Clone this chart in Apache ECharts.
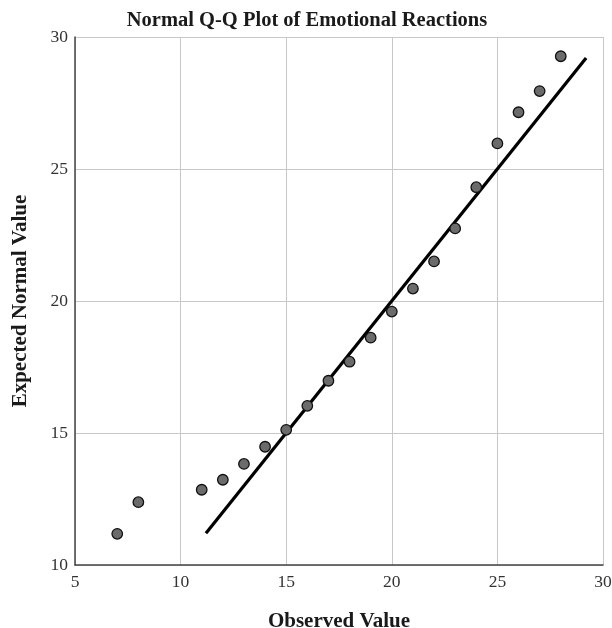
<!DOCTYPE html>
<html>
<head>
<meta charset="utf-8">
<script src="https://cdn.jsdelivr.net/npm/echarts@6/dist/echarts.min.js"></script>
<style>html,body{margin:0;padding:0;background:#fff;}#c{width:612px;height:628px;}</style>
</head>
<body>
<div id="c"></div>
<script>
const observed = [7, 8, 11, 12, 13, 14, 15, 16, 17, 18, 19, 20, 21, 22, 23, 24, 25, 26, 27, 28];
const expected = [11.18, 12.38, 12.85, 13.23, 13.83, 14.48, 15.12, 16.03, 16.98, 17.70, 18.61, 19.60, 20.47, 21.50, 22.75, 24.31, 25.97, 27.15, 27.95, 29.27];
const refLineX = [11.2, 29.2];
const refLineY = [11.2, 29.2];
const titleText = 'Normal Q-Q Plot of Emotional Reactions';
const xName = 'Observed Value';
const yName = 'Expected Normal Value';

const chart = echarts.init(document.getElementById('c'), null, {renderer: 'canvas'});
const serif = '"Liberation Serif", "Times New Roman", serif';
chart.setOption({
  animation: false,
  title: {
    text: titleText, left: 302, top: 5, textAlign: 'center',
    textStyle: {fontFamily: serif, fontSize: 20.5, fontWeight: 'bold', color: '#1a1a1a'}
  },
  grid: {left: 75, right: 9, top: 37, bottom: 63, containLabel: false, outerBoundsMode: 'none'},
  xAxis: {
    type: 'value', min: 5, max: 30, interval: 5,
    name: xName, nameLocation: 'middle', nameGap: 46,
    nameTextStyle: {fontFamily: serif, fontSize: 21, fontWeight: 'bold', color: '#1a1a1a'},
    axisLine: {show: true, lineStyle: {color: '#444', width: 1.5}},
    axisTick: {show: false},
    axisLabel: {fontFamily: serif, fontSize: 17.5, color: '#333', margin: 8},
    splitLine: {show: true, lineStyle: {color: '#c8c8c8', width: 1}}
  },
  yAxis: {
    type: 'value', min: 10, max: 30, interval: 5,
    name: yName, nameLocation: 'middle', nameGap: 44,
    nameTextStyle: {fontFamily: serif, fontSize: 21, fontWeight: 'bold', color: '#1a1a1a'},
    axisLine: {show: true, lineStyle: {color: '#444', width: 1.5}},
    axisTick: {show: false},
    axisLabel: {fontFamily: serif, fontSize: 17.5, color: '#333', margin: 7},
    splitLine: {show: true, lineStyle: {color: '#c8c8c8', width: 1}}
  },
  series: [
    {
      type: 'line',
      data: refLineX.map((x, i) => [x, refLineY[i]]),
      symbol: 'none',
      lineStyle: {color: '#000', width: 3.2},
      z: 2
    },
    {
      type: 'scatter',
      data: observed.map((x, i) => [x, expected[i]]),
      symbolSize: 10.5,
      itemStyle: {color: '#6b6b6b', borderColor: '#111', borderWidth: 1.3, opacity: 1},
      z: 3
    }
  ]
});
</script>
</body>
</html>
